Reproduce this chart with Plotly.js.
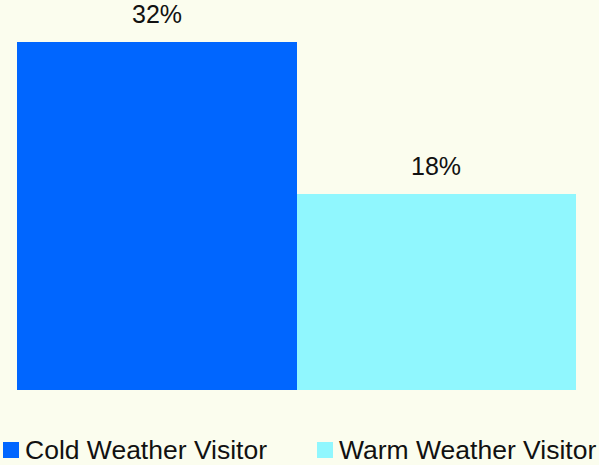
<!DOCTYPE html>
<html>
<head>
<meta charset="utf-8">
<script src="https://cdn.plot.ly/plotly-3.0.1.min.js"></script>
<style>
  html, body { margin: 0; padding: 0; background: #fbfdee; }
  #chart { width: 599px; height: 465px; }
</style>
</head>
<body>
<div id="chart"></div>
<script>
// Share of visitors by travel preference
const categories = ["Cold Weather Visitor", "Warm Weather Visitor"];
const shares = [32, 18];
const labels = ["32%", "18%"];
const colors = ["#0066ff", "#90f7fe"];

const FONT = "Liberation Sans, Arial, sans-serif";
const BG = "#fbfdee";

const PLOT_W = 559, PLOT_H = 348, PLOT_L = 17, PLOT_B = 390;
const px = v => (v - PLOT_L) / PLOT_W;      // page x -> paper x
const py = v => (PLOT_B - v) / PLOT_H;      // page y -> paper y

const trace = {
  type: "bar",
  x: categories,
  y: shares,
  marker: { color: colors, line: { width: 0 } },
  hoverinfo: "skip",
  showlegend: false
};

// Value labels sit above each bar
const valueNotes = categories.map((c, i) => ({
  x: c, y: shares[i], xref: "x", yref: "y",
  text: labels[i], showarrow: false,
  yanchor: "bottom", yshift: 12,
  font: { family: FONT, size: 25, color: "#111111" }
}));

// Custom legend row: colored square + label for each category
const legendLeft = [3, 317];
const legendShapes = categories.map((c, i) => ({
  type: "rect", xref: "paper", yref: "paper",
  x0: px(legendLeft[i]), x1: px(legendLeft[i] + 16),
  y0: py(458), y1: py(442),
  fillcolor: colors[i], line: { width: 0 }
}));
const legendNotes = categories.map((c, i) => ({
  x: px(legendLeft[i] + 20), y: py(450),
  xref: "paper", yref: "paper",
  xanchor: "left", yanchor: "middle",
  text: c, showarrow: false,
  font: { family: FONT, size: 26.5, color: "#111111" }
}));

const layout = {
  width: 599, height: 465,
  margin: { l: PLOT_L, r: 599 - PLOT_L - PLOT_W, t: 42, b: 465 - PLOT_B },
  paper_bgcolor: BG, plot_bgcolor: BG,
  bargap: 0,
  xaxis: { visible: false, range: [-0.5, 1.5], fixedrange: true },
  yaxis: { visible: false, range: [0, 32], fixedrange: true },
  showlegend: false,
  annotations: valueNotes.concat(legendNotes),
  shapes: legendShapes
};

Plotly.newPlot("chart", [trace], layout, { displayModeBar: false, staticPlot: true });
</script>
</body>
</html>
